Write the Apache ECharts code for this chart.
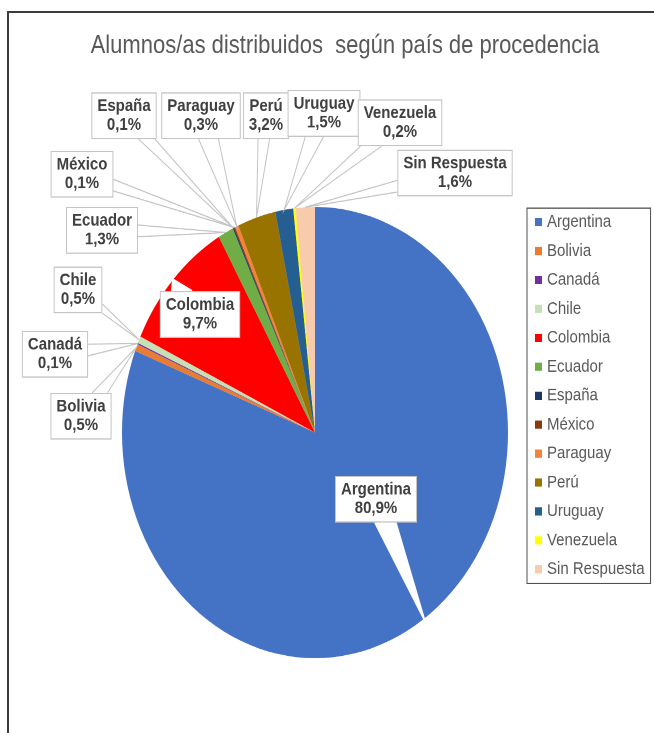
<!DOCTYPE html>
<html>
<head>
<meta charset="utf-8">
<script src="https://cdn.jsdelivr.net/npm/echarts@6/dist/echarts.min.js"></script>
<style>
  html, body { margin: 0; padding: 0; background: #fff; overflow: hidden; width: 654px; height: 733px; }
  #frame { position: absolute; left: 7px; top: 11px; width: 800px; height: 900px;
           border-left: 2px solid #3c3c3c; border-top: 2px solid #3c3c3c; box-sizing: border-box; }
  #main { position: absolute; left: 0; top: 0; width: 654px; height: 627px;
          transform: scaleY(1.169); transform-origin: 0 0; }
</style>
</head>
<body>
<div id="frame"></div>
<div id="main"></div>
<script>
// ---- data ----
const titleText = 'Alumnos/as distribuidos  según país de procedencia';
const categories = ['Argentina', 'Bolivia', 'Canadá', 'Chile', 'Colombia', 'Ecuador', 'España',
                    'México', 'Paraguay', 'Perú', 'Uruguay', 'Venezuela', 'Sin Respuesta'];
const values = [80.9, 0.5, 0.1, 0.5, 9.7, 1.3, 0.1, 0.1, 0.3, 3.2, 1.5, 0.2, 1.6];

// ---- styles / layout (kept apart from data) ----
const colors = ['#4472C4', '#E97C33', '#7030A0', '#C5E0B4', '#FF0000', '#70AD47', '#1F3864',
                '#843C0C', '#F4823D', '#997300', '#255E91', '#FFFF00', '#F8CBAD'];
// label box centres (chart px, before vertical stretch)
const labelCenters = [
  [376, 427], [81, 356], [55, 303], [78, 248], [200, 269], [102, 197], [124, 99],
  [82, 149], [201, 99], [266, 99], [324, 97], [400, 105], [455, 148]
];
const insideLabels = { 0: true, 4: true };
const FONT = 'Liberation Sans, Arial, sans-serif';
const PIE_CENTER = [315, 370];
const PIE_RADIUS = 193;

function wedgePoints(cx, cy, w, h, a, fillCount) {
  const ax = a[0], ay = a[1];
  const dx = ax - cx, dy = ay - cy;
  const tx = dx !== 0 ? (w / 2) / Math.abs(dx) : Infinity;
  const ty = dy !== 0 ? (h / 2) / Math.abs(dy) : Infinity;
  let b0, b1;
  if (tx < ty) {
    const px = cx + dx * tx, py = cy + dy * tx;
    const hb = h * 0.125;
    b0 = [px, Math.max(cy - h / 2, py - hb)];
    b1 = [px, Math.min(cy + h / 2, py + hb)];
  } else {
    const px = cx + dx * ty, py = cy + dy * ty;
    const hb = w * 0.125;
    b0 = [Math.max(cx - w / 2, px - hb), py];
    b1 = [Math.min(cx + w / 2, px + hb), py];
  }
  if (!fillCount) return [b0, [ax, ay], b1];
  const pts = [];
  for (let k = 0; k <= fillCount; k++) {
    const t = k / fillCount;
    pts.push([b0[0] + (b1[0] - b0[0]) * t, b0[1] + (b1[1] - b0[1]) * t]);
    if (k < fillCount) pts.push([ax, ay]);
  }
  return pts;
}

// series 1: coloured slices
const sliceData = categories.map(function (name, i) {
  return { name: name, value: values[i], itemStyle: { color: colors[i] } };
});
// series 2: same slices, transparent, carrying the callout labels on top
const labelData = categories.map(function (name, i) {
  const item = { name: name, value: values[i], itemStyle: { color: 'rgba(0,0,0,0)' } };
  if (insideLabels[i]) {
    item.labelLine = { lineStyle: { color: '#ffffff', width: 2, join: 'round' } };
  }
  return item;
});

const chart = echarts.init(document.getElementById('main'), null, { renderer: 'canvas', devicePixelRatio: 2 });
chart.setOption({
  animation: false,
  backgroundColor: 'transparent',
  title: {
    text: titleText,
    left: 345,
    top: 28.5,
    padding: 0,
    textAlign: 'center',
    textStyle: { fontFamily: FONT, fontSize: 22, fontWeight: 'normal', color: '#595959' }
  },
  legend: {
    orient: 'vertical',
    left: 527,
    top: 178,
    padding: [4.5, 6, 4.5, 8],
    borderColor: '#505050',
    borderWidth: 1,
    backgroundColor: '#fff',
    icon: 'rect',
    itemWidth: 7,
    itemHeight: 7,
    itemGap: 9.75,
    selectedMode: false,
    data: categories,
    textStyle: { fontFamily: FONT, fontSize: 15, lineHeight: 15, color: '#595959' }
  },
  series: [{
    type: 'pie',
    z: 2,
    center: PIE_CENTER,
    radius: PIE_RADIUS,
    startAngle: 90,
    clockwise: true,
    silent: true,
    emphasis: { disabled: true },
    label: { show: false },
    labelLine: { show: false },
    data: sliceData
  }, {
    type: 'pie',
    z: 3,
    center: PIE_CENTER,
    radius: PIE_RADIUS,
    startAngle: 90,
    clockwise: true,
    silent: true,
    avoidLabelOverlap: false,
    emphasis: { disabled: true },
    label: {
      show: true,
      position: 'outside',
      formatter: function (p) { return p.name + '\n' + p.value.toFixed(1).replace('.', ',') + '%'; },
      fontFamily: FONT,
      fontSize: 15,
      fontWeight: 'bold',
      lineHeight: 16,
      color: '#404040',
      align: 'center',
      backgroundColor: '#ffffff',
      borderColor: '#c4c4c4',
      borderWidth: 1,
      padding: [3, 5]
    },
    labelLine: {
      show: true,
      length: 10,
      length2: 10,
      lineStyle: { color: '#c4c4c4', width: 1 }
    },
    labelLayout: function (p) {
      const c = labelCenters[p.dataIndex];
      const w = p.labelRect.width, h = p.labelRect.height;
      const out = { x: c[0], y: c[1], align: 'center', verticalAlign: 'middle' };
      if (p.labelLinePoints && p.labelLinePoints.length) {
        out.labelLinePoints = wedgePoints(c[0], c[1], w, h, p.labelLinePoints[0],
                                          insideLabels[p.dataIndex] ? 14 : 0);
      }
      return out;
    },
    data: labelData
  }]
});
</script>
</body>
</html>
